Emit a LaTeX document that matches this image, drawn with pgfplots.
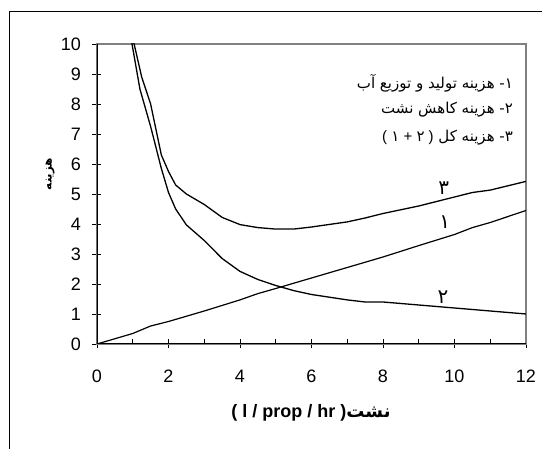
\documentclass[border=0pt]{standalone}
\usepackage{pgfplots}
\pgfplotsset{compat=1.18}
\usepackage{fontspec}
\setmainfont{Liberation Sans}
\newfontfamily\fa[Script=Arabic]{DejaVu Sans}
\TeXXeTstate=1

% curve 1: production and distribution cost
\pgfplotstableread{
x y
0 0
1 0.35
1.5 0.6
2 0.75
3 1.1
4 1.47
4.5 1.68
5 1.85
6 2.2
7 2.55
8 2.9
9 3.28
10 3.65
10.5 3.88
11 4.05
12 4.45
}\costone
% curve 2: leakage reduction cost
\pgfplotstableread{
x y
0.95 10.2
1.2 8.5
1.5 7.25
1.8 5.85
2.0 5.05
2.2 4.5
2.5 3.97
3 3.45
3.5 2.85
4 2.42
4.5 2.15
5 1.95
5.5 1.78
6 1.65
7 1.47
7.5 1.4
8 1.4
9 1.3
10 1.2
11 1.1
12 1.0
}\costtwo
% curve 3: total cost
\pgfplotstableread{
x y
1.0 10.2
1.25 8.9
1.5 8.0
1.8 6.3
2.0 5.75
2.2 5.3
2.5 5.0
3 4.65
3.5 4.22
4 3.98
4.5 3.88
5 3.83
5.5 3.83
6 3.9
7 4.07
7.5 4.2
8 4.35
9 4.6
10 4.9
10.5 5.05
11 5.13
12 5.42
}\costthree

\begin{document}
\begin{tikzpicture}
\path[use as bounding box] (-97pt,-105pt) rectangle (445pt,344pt);
\draw[black, line width=0.9pt] (-88pt,-110pt) -- (-88pt,333pt) -- (450pt,333pt);
\begin{axis}[
  at={(0,0)}, anchor=south west,
  scale only axis, width=429pt, height=300pt,
  xmin=0, xmax=12, ymin=0, ymax=10,
  xtick={0,2,...,12}, ytick={0,1,...,10},
  tick pos=left, tick align=center, major tick length=9pt,
  extra x ticks={1,3,...,11}, extra x tick labels={},
  extra x tick style={tick align=inside, major tick length=5pt},
  tick style={black, line width=0.9pt},
  axis line style={draw=gray, line width=1.3pt},
  font=\fontsize{18}{20}\selectfont,
  /pgf/number format/assume math mode=true,
  xticklabel style={yshift=-18pt},
  yticklabel style={xshift=-8pt},
  clip=true,
]
\addplot[black, line width=1.2pt] table {\costone};
\addplot[black, line width=1.3pt] table {\costtwo};
\addplot[black, line width=1.3pt] table {\costthree};
\draw[black, line width=1.3pt] (rel axis cs:0,1) -- (rel axis cs:0,0) -- (rel axis cs:1,0);
\node[font=\fa\fontsize{20}{22}\selectfont] at (axis cs:9.7,5.2) {۳};
\node[font=\fa\fontsize{20}{22}\selectfont] at (axis cs:9.73,4.07) {۱};
\node[font=\fa\fontsize{20}{22}\selectfont] at (axis cs:9.68,1.57) {۲};
\node[anchor=east, inner sep=0pt, font=\fa\fontsize{15}{17}\selectfont] at (axis cs:11.64,8.7) {\beginR ۱- هزینه تولید و توزیع آب\endR};
\node[anchor=east, inner sep=0pt, font=\fa\fontsize{15}{17}\selectfont] at (axis cs:11.64,7.8) {\beginR ۲- هزینه کاهش نشت\endR};
\node[anchor=east, inner sep=0pt, font=\fa\fontsize{15}{17}\selectfont] at (axis cs:11.64,6.87) {\beginR ۳- هزینه کل \beginL{\rmfamily(\ }۱{\rmfamily\ +\ }۲{\rmfamily\ )}\endL\endR};
\end{axis}
\node[rotate=90, font=\fa\bfseries\fontsize{12}{14}\selectfont] at (-47pt,170pt) {هزینه};
\node[font=\bfseries\fontsize{18}{20}\selectfont] at (214pt,-69pt) {( l / prop / hr ){\fa نشت}};
\end{tikzpicture}
\end{document}
